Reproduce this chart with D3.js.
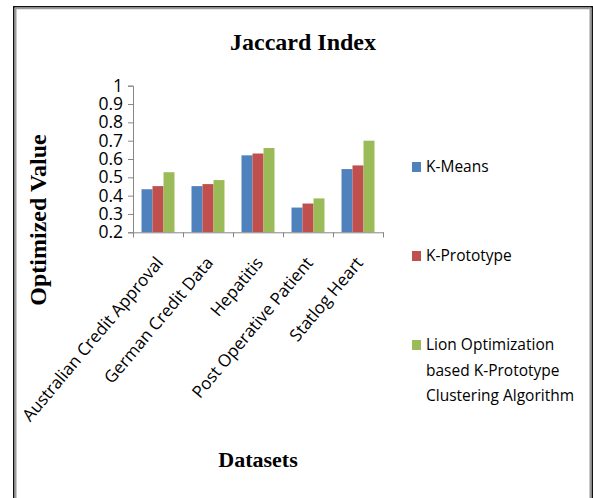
<!DOCTYPE html>
<html>
<head>
<meta charset="utf-8">
<script src="https://cdn.jsdelivr.net/npm/d3@7"></script>
<style>
  html, body { margin: 0; padding: 0; background: #fff; }
  svg { display: block; }
</style>
</head>
<body>
<svg id="chart" width="593" height="498"></svg>
<script>
// Datasets on the x axis
const categories = [
  "Australian Credit Approval",
  "German Credit Data",
  "Hepatitis",
  "Post Operative Patient",
  "Statlog Heart"
];

// Series names and their Jaccard index per dataset
const seriesNames = [
  "K-Means",
  "K-Prototype",
  "Lion Optimization based K-Prototype Clustering Algorithm"
];
const kMeans      = [0.435, 0.452, 0.620, 0.335, 0.545];
const kPrototype  = [0.452, 0.463, 0.630, 0.357, 0.565];
const lionKProto  = [0.528, 0.485, 0.660, 0.385, 0.700];

// Y-axis tick values
const yTicks = [0.2, 0.3, 0.4, 0.5, 0.6, 0.7, 0.8, 0.9, 1];

// Legend text broken into lines
const legendLines = [
  ["K-Means"],
  ["K-Prototype"],
  ["Lion Optimization", "based K-Prototype", "Clustering Algorithm"]
];

const colors = ["#4F81BD", "#C0504D", "#9BBB59"];
const seriesValues = [kMeans, kPrototype, lionKProto];

const svg = d3.select("#chart");
const W = 593, H = 498;

// Chart frame: dark outer line with a grey inner line
svg.append("rect").attr("x", 0).attr("y", 0).attr("width", W).attr("height", H).attr("fill", "#fff");
svg.append("rect")
  .attr("x", 13.75).attr("y", 6.75).attr("width", 578.5).attr("height", 520)
  .attr("fill", "none").attr("stroke", "#111").attr("stroke-width", 1.5);
svg.append("rect")
  .attr("x", 15.75).attr("y", 8.5).attr("width", 574.5).attr("height", 516)
  .attr("fill", "none").attr("stroke", "#9a9a9a").attr("stroke-width", 1.5);

// Plot area
const plot = { left: 133, right: 383, top: 85.7, bottom: 232.3 };

const x = d3.scaleBand()
  .domain(categories)
  .range([plot.left, plot.right])
  .paddingInner(0.34)
  .paddingOuter(0.17);

const xInner = d3.scaleBand()
  .domain(d3.range(seriesNames.length))
  .range([0, x.bandwidth()]);

const y = d3.scaleLinear().domain([0.2, 1]).range([plot.bottom, plot.top]);

const axisColor = "#868686";
const sans = "'Open Sans', 'Noto Sans', sans-serif";
const serif = "'Liberation Serif', 'DejaVu Serif', serif";

// Bars
const rows = categories.map((c, i) => ({ cat: c, vals: seriesValues.map(s => s[i]) }));
const groups = svg.append("g").selectAll("g")
  .data(rows).join("g")
  .attr("transform", d => `translate(${x(d.cat)},0)`);
groups.selectAll("rect")
  .data(d => d.vals.map((v, k) => ({ v, k })))
  .join("rect")
  .attr("x", d => xInner(d.k))
  .attr("width", xInner.bandwidth())
  .attr("y", d => y(d.v))
  .attr("height", d => y(0.2) - y(d.v))
  .attr("fill", d => colors[d.k]);

// Y axis
const yAxis = svg.append("g")
  .attr("transform", `translate(${plot.left},0)`)
  .call(d3.axisLeft(y).tickValues(yTicks).tickSize(5).tickPadding(5)
    .tickFormat(d => d3.format("~g")(d)));
yAxis.select(".domain").attr("stroke", axisColor);
yAxis.selectAll(".tick line").attr("stroke", axisColor);
yAxis.selectAll(".tick text")
  .attr("font-family", sans).attr("font-size", 17.5).attr("fill", "#000");

// X axis: ticks sit on the category boundaries
const boundaries = d3.range(categories.length + 1).map(i => plot.left + i * x.step());
const xLin = d3.scaleLinear().domain([plot.left, plot.right]).range([plot.left, plot.right]);
const xAxis = svg.append("g")
  .attr("transform", `translate(0,${plot.bottom})`)
  .call(d3.axisBottom(xLin).tickValues(boundaries).tickSize(5).tickFormat(""));
xAxis.select(".domain").attr("stroke", axisColor);
xAxis.selectAll(".tick line").attr("stroke", axisColor);

// Rotated category labels
svg.append("g").selectAll("text")
  .data(categories).join("text")
  .attr("transform", d => `translate(${x(d) + x.bandwidth() / 2 + 6},${plot.bottom + 31}) rotate(-50)`)
  .attr("text-anchor", "end")
  .attr("font-family", sans).attr("font-size", 17)
  .attr("fill", "#000")
  .text(d => d);

// Title and axis titles
svg.append("text")
  .attr("x", 303).attr("y", 50)
  .attr("text-anchor", "middle")
  .attr("font-family", serif).attr("font-weight", "bold").attr("font-size", 24)
  .text("Jaccard Index");

svg.append("text")
  .attr("transform", "translate(46,220) rotate(-90)")
  .attr("text-anchor", "middle")
  .attr("font-family", serif).attr("font-weight", "bold").attr("font-size", 24)
  .text("Optimized Value");

svg.append("text")
  .attr("x", (plot.left + plot.right) / 2).attr("y", 467)
  .attr("text-anchor", "middle")
  .attr("font-family", serif).attr("font-weight", "bold").attr("font-size", 22)
  .text("Datasets");

// Legend
const legendY = [167, 256, 345];
const legend = svg.append("g").selectAll("g")
  .data(seriesNames).join("g")
  .attr("transform", (d, i) => `translate(412,${legendY[i]})`);
legend.append("rect")
  .attr("x", 0).attr("y", -5).attr("width", 9).attr("height", 10)
  .attr("fill", (d, i) => colors[i]);
legend.append("text")
  .attr("x", 14)
  .attr("font-family", sans).attr("font-size", 15.5).attr("fill", "#000")
  .selectAll("tspan")
  .data((d, i) => legendLines[i])
  .join("tspan")
  .attr("x", 14)
  .attr("y", (d, j) => j * 25.5)
  .attr("dy", "0.35em")
  .text(d => d);
</script>
</body>
</html>
